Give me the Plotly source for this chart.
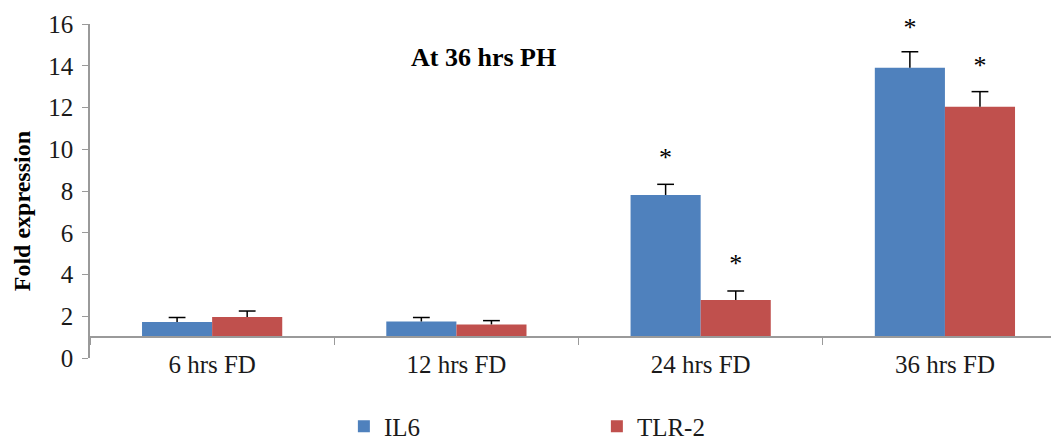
import plotly.graph_objects as go

categories = ["6 hrs FD", "12 hrs FD", "24 hrs FD", "36 hrs FD"]
il6_values = [1.72, 1.75, 7.81, 13.90]
il6_err = [0.22, 0.19, 0.51, 0.77]
tlr2_values = [1.96, 1.61, 2.78, 12.04]
tlr2_err = [0.29, 0.18, 0.43, 0.72]
# significance star heights (None = no star)
il6_stars = [None, None, 9.49, 15.75]
tlr2_stars = [None, None, 4.43, 13.91]
axis_cross = 1.0
y_ticks = [0, 2, 4, 6, 8, 10, 12, 14, 16]

FONT = "'Times New Roman', 'Liberation Serif', Times, serif"
BLUE = "#4F81BD"
RED = "#C0504D"
AXIS = "#9A9A9A"

fig = go.Figure()
series = [("IL6", il6_values, il6_err, il6_stars, BLUE),
          ("TLR-2", tlr2_values, tlr2_err, tlr2_stars, RED)]
for name, vals, errs, st, col in series:
    fig.add_trace(go.Bar(
        x=categories,
        y=[v - axis_cross for v in vals],
        base=axis_cross,
        name=name,
        offsetgroup=name,
        marker=dict(color=col, line=dict(width=0)),
    ))
for name, vals, errs, st, col in series:
    # plus-only error bars: cap marker at top, stem going down to bar top
    fig.add_trace(go.Scatter(
        x=categories,
        y=[v + e for v, e in zip(vals, errs)],
        mode="markers",
        offsetgroup=name,
        showlegend=False,
        hoverinfo="skip",
        marker=dict(symbol="line-ew", size=12, color="#000000",
                    line=dict(color="#000000", width=1.5)),
        error_y=dict(type="data", symmetric=False, array=[0] * len(errs),
                     arrayminus=errs, color="#000000", thickness=1.5, width=0),
    ))
    # significance stars
    fig.add_trace(go.Scatter(
        x=categories,
        y=st,
        mode="text",
        text=["*" if s is not None else "" for s in st],
        textposition="middle center",
        textfont=dict(size=26, family=FONT, color="#000000"),
        offsetgroup=name,
        cliponaxis=False,
        showlegend=False,
        hoverinfo="skip",
    ))

# the page body adds an 8px offset; margins compensate for it
W, H = 1059, 439
ml, mr, mt, mb = 82, 8, 16, 89

fig.update_layout(
    width=W, height=H,
    margin=dict(l=ml, r=mr, t=mt, b=mb, autoexpand=False),
    paper_bgcolor="white", plot_bgcolor="white",
    barmode="group", bargap=0.426, bargroupgap=0,
    scattermode="group", scattergap=0.426,
    font=dict(family=FONT, size=24, color="#1a1a1a"),
    showlegend=True,
    legend=dict(orientation="h", x=0.262, xanchor="left", y=-0.205,
                yanchor="middle", font=dict(size=25, family=FONT),
                entrywidth=208, entrywidthmode="pixels",
                bgcolor="rgba(0,0,0,0)"),
    xaxis=dict(
        range=[-0.5, 3.467], anchor="free", position=axis_cross / 16,
        automargin=False,
        showline=True, linecolor=AXIS, linewidth=1.5,
        ticks="outside", tickson="boundaries", ticklen=7, tickcolor=AXIS,
        tickwidth=1, showgrid=False, zeroline=False,
        tickfont=dict(size=25, family=FONT, color="#1a1a1a"),
        ticklabelstandoff=5,
    ),
    yaxis=dict(
        range=[0, 16], tickvals=y_ticks, automargin=False,
        showline=True, linecolor=AXIS, linewidth=1.5,
        ticks="outside", ticklen=6, tickcolor=AXIS, tickwidth=1,
        showgrid=False, zeroline=False,
        tickfont=dict(size=25, family=FONT, color="#1a1a1a"),
        ticklabelstandoff=4,
    ),
)

annotations = [
    dict(text="<b>At 36 hrs PH</b>", xref="paper", yref="paper",
         x=0.4066, y=0.90, xanchor="center", yanchor="middle",
         showarrow=False, font=dict(size=26, family=FONT, color="#000000")),
    dict(text="<b>Fold expression</b>", xref="paper", yref="paper",
         x=-0.070, y=0.44, xanchor="center", yanchor="middle", textangle=-90,
         showarrow=False, font=dict(size=24, family=FONT, color="#000000")),
]
fig.update_layout(annotations=annotations)

fig.write_html("out.html")
